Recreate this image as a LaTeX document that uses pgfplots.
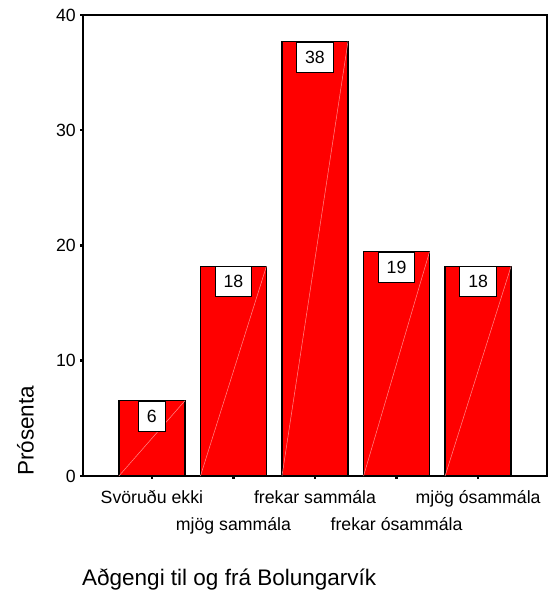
\documentclass[border=0pt]{standalone}
\usepackage{fontspec}
\setmainfont{Liberation Sans}
\usepackage{pgfplots}
\pgfplotsset{compat=1.18}
\begin{document}
\begin{tikzpicture}
\useasboundingbox (0pt,0pt) rectangle (550pt,594pt);
\begin{axis}[
  at={(83pt,118pt)}, anchor=south west,
  width=464pt, height=461pt, scale only axis,
  xmin=0.155, xmax=5.845, ymin=0, ymax=40,
  xtick={1,2,3,4,5},
  xticklabels={Svöruðu ekki, \raisebox{-27pt}{mjög sammála}, frekar sammála, \raisebox{-27pt}{frekar ósammála}, mjög ósammála},
  ytick={0,10,20,30,40},
  xtick pos=bottom, ytick pos=left,
  tick align=outside, major tick length=3pt,
  tick style={black, line width=2.5pt},
  axis line style={black, line width=1.8pt},
  /pgf/number format/assume math mode=true,
  tick label style={font=\fontsize{17.7pt}{21pt}\selectfont},
  xticklabel style={anchor=base, inner sep=0pt, yshift=-25pt},
  yticklabel style={anchor=east, inner sep=0pt, xshift=-4pt},
  clip=false,
]
\addplot[ybar, bar width=66pt, fill=red, draw=black, line width=1.3pt,
  point meta=explicit symbolic,
  nodes near coords,
  every node near coord/.append style={anchor=north, fill=white, draw=black, line width=1.2pt,
    minimum width=27pt, minimum height=30pt, inner xsep=8.5pt, inner ysep=0pt,
    font=\fontsize{17.7pt}{21pt}\selectfont}]
coordinates {(1,6.53) [6] (2,18.2) [18] (3,37.7) [38] (4,19.46) [19] (5,18.2) [18]};
\addplot[red!45!white, line width=0.5pt] coordinates {(0.5954,0) (1.4046,6.53)};
\addplot[red!45!white, line width=0.5pt] coordinates {(1.5954,0) (2.4046,18.2)};
\addplot[red!45!white, line width=0.5pt] coordinates {(2.5954,0) (3.4046,37.7)};
\addplot[red!45!white, line width=0.5pt] coordinates {(3.5954,0) (4.4046,19.46)};
\addplot[red!45!white, line width=0.5pt] coordinates {(4.5954,0) (5.4046,18.2)};
\end{axis}
\node[rotate=90, anchor=south west, inner sep=0pt, font=\fontsize{22.5pt}{27pt}\selectfont] at (34pt,118pt) {Prósenta};
\node[anchor=base west, inner sep=0pt, font=\fontsize{22.5pt}{27pt}\selectfont] at (82pt,9pt) {Aðgengi til og frá Bolungarvík};
\end{tikzpicture}
\end{document}
